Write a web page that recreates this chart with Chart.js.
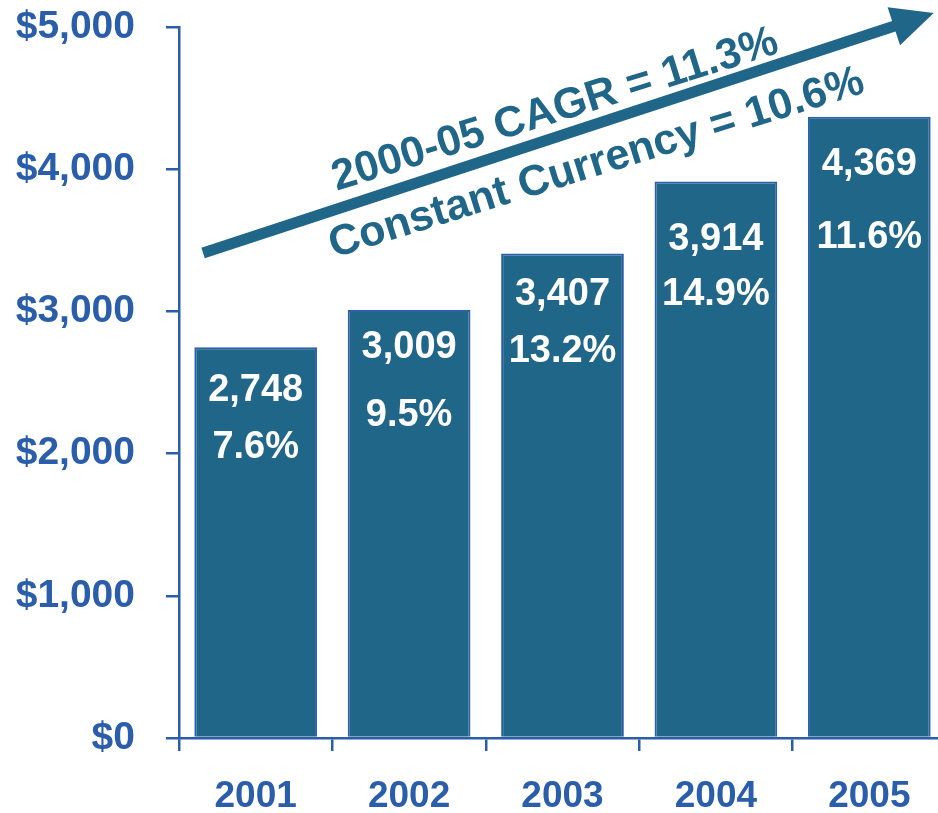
<!DOCTYPE html>
<html lang="en">
<head>
  <meta charset="UTF-8" />
  <title>Revenue 2001-2005</title>
  <script src="https://cdn.jsdelivr.net/npm/chart.js"></script>
  <style>
    html, body { margin: 0; padding: 0; background: #ffffff; overflow: hidden; }
    #wrap { width: 946px; height: 813px; }
  </style>
</head>
<body>
  <div id="wrap">
    <canvas id="revChart" width="946" height="813"></canvas>
  </div>

  <script>
    // data
    const years = ['2001', '2002', '2003', '2004', '2005'];
    const revenue = [2748, 3009, 3407, 3914, 4369];
    const growth = ['7.6%', '9.5%', '13.2%', '14.9%', '11.6%'];
    const yTicks = [0, 1000, 2000, 3000, 4000, 5000];
    const cagrText = '2000-05 CAGR = 11.3%';
    const constText = 'Constant Currency = 10.6%';

    const AXIS = '#2a5daa';
    const BAR = '#1f6688';
    const FONT = '"Liberation Sans", Arial, sans-serif';

    // small per-bar nudges for the value / percent labels (px, from bar top)
    const labelShift = [[-2, -7], [-8, -2], [-4, -9], [13, 6], [3, 14]];

    const barLabels = {
      id: 'barLabels',
      afterDatasetsDraw(chart) {
        const ctx = chart.ctx;
        const meta = chart.getDatasetMeta(0);
        ctx.save();
        ctx.fillStyle = '#ffffff';
        ctx.textAlign = 'center';
        ctx.textBaseline = 'alphabetic';
        ctx.font = 'bold 38px ' + FONT;
        meta.data.forEach((bar, i) => {
          const half = 0.358 * 38;
          ctx.fillText(revenue[i].toLocaleString('en-US'), bar.x, bar.y + 42 + labelShift[i][0] + half);
          ctx.fillText(growth[i], bar.x, bar.y + 104 + labelShift[i][1] + half);
        });
        ctx.restore();
      }
    };

    // growth arrow + captions, placed in scale units
    const growthArrow = {
      id: 'growthArrow',
      afterDraw(chart) {
        const xs = chart.scales.x, ys = chart.scales.y;
        const pt = (i, v) => [xs.getPixelForValue(i), ys.getPixelForValue(v)];
        const ctx = chart.ctx;
        const [x0, y0] = pt(-0.343, 3411);
        const [x1, y1] = pt(4.42, 5098);
        const ang = Math.atan2(y1 - y0, x1 - x0);
        const len = Math.hypot(x1 - x0, y1 - y0);
        ctx.save();
        ctx.fillStyle = BAR;
        ctx.translate(x0, y0);
        ctx.rotate(ang);
        ctx.fillRect(0, -5.5, len - 38, 11);
        ctx.beginPath();
        ctx.moveTo(len, 0);
        ctx.lineTo(len - 42, -20);
        ctx.lineTo(len - 42, 20);
        ctx.closePath();
        ctx.fill();
        ctx.restore();

        const tilt = -17.3 * Math.PI / 180;
        ctx.save();
        ctx.fillStyle = BAR;
        ctx.font = 'bold 43px ' + FONT;
        ctx.textAlign = 'center';
        ctx.textBaseline = 'alphabetic';
        [[cagrText, 1.975, 4335], [constText, 2.245, 3959]].forEach(([t, i, v]) => {
          const [tx, ty] = pt(i, v);
          ctx.save();
          ctx.translate(tx, ty);
          ctx.rotate(tilt);
          ctx.fillText(t, 0, 0);
          ctx.restore();
        });
        ctx.restore();
      }
    };

    new Chart(document.getElementById('revChart'), {
      type: 'bar',
      data: {
        labels: years,
        datasets: [{
          data: revenue,
          backgroundColor: BAR,
          borderColor: '#2d5faa',
          borderWidth: 2,
          barPercentage: 0.8,
          categoryPercentage: 1
        }]
      },
      options: {
        responsive: false,
        animation: false,
        devicePixelRatio: 1,
        layout: { padding: { top: 27, left: 0, right: 0, bottom: 0 } },
        plugins: { legend: { display: false }, tooltip: { enabled: false } },
        scales: {
          x: {
            grid: { drawOnChartArea: false, drawTicks: true, tickLength: 13, lineWidth: 2.5, color: AXIS, offset: true },
            border: { display: true, color: AXIS, width: 2.5 },
            ticks: { color: AXIS, padding: 24, font: { family: FONT, weight: 'bold', size: 37 } },
            afterFit(s) { s.height = 75; s.paddingLeft = 0; s.paddingRight = 0; }
          },
          y: {
            min: 0,
            max: 5000,
            afterBuildTicks(s) { s.ticks = yTicks.map(v => ({ value: v })); },
            grid: { drawOnChartArea: false, drawTicks: true, tickLength: 13, lineWidth: 2.5, color: AXIS },
            border: { display: true, color: AXIS, width: 2.5 },
            ticks: {
              color: AXIS,
              padding: 31,
              font: { family: FONT, weight: 'bold', size: 39 },
              callback: v => '$' + v.toLocaleString('en-US')
            },
            afterFit(s) { s.width = 179; s.paddingTop = 0; s.paddingBottom = 0; }
          }
        }
      },
      plugins: [barLabels, growthArrow]
    });
  </script>
</body>
</html>
